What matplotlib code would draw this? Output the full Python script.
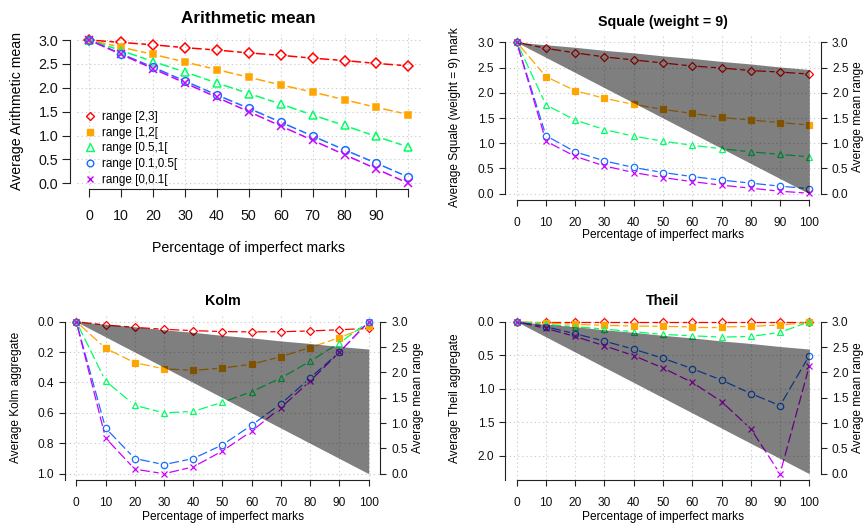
import matplotlib
matplotlib.use('Agg')
import matplotlib.pyplot as plt
from matplotlib.lines import Line2D
import numpy as np

plt.rcParams['font.family'] = ['Liberation Sans', 'DejaVu Sans']
plt.rcParams['lines.scale_dashes'] = False

# ---------------- data ----------------
pct = [0, 10, 20, 30, 40, 50, 60, 70, 80, 90, 100]
series_labels = ['range [2,3]', 'range [1,2[', 'range [0.5,1[', 'range [0.1,0.5[', 'range [0,0.1[']
colors = ['#FF0000', '#FFA500', '#00FF66', '#1A6EFF', '#CC00FF']
markers = ['D', 's', '^', 'o', 'x']

am_23 = [3.0, 2.95, 2.90, 2.84, 2.79, 2.73, 2.68, 2.62, 2.57, 2.51, 2.46]
am_12 = [3.0, 2.85, 2.70, 2.54, 2.38, 2.22, 2.06, 1.91, 1.75, 1.59, 1.44]
am_051 = [3.0, 2.78, 2.55, 2.33, 2.10, 1.88, 1.66, 1.43, 1.21, 0.98, 0.76]
am_0105 = [3.0, 2.71, 2.43, 2.14, 1.85, 1.57, 1.28, 0.99, 0.70, 0.42, 0.13]
am_001 = [3.0, 2.70, 2.40, 2.10, 1.80, 1.50, 1.20, 0.90, 0.60, 0.30, 0.0]

sq_23 = [3.0, 2.88, 2.79, 2.71, 2.65, 2.59, 2.53, 2.49, 2.44, 2.41, 2.37]
sq_12 = [3.0, 2.32, 2.04, 1.89, 1.77, 1.67, 1.59, 1.51, 1.46, 1.41, 1.36]
sq_051 = [3.0, 1.76, 1.46, 1.27, 1.14, 1.04, 0.96, 0.89, 0.83, 0.78, 0.73]
sq_0105 = [3.0, 1.15, 0.83, 0.65, 0.52, 0.42, 0.34, 0.27, 0.21, 0.15, 0.10]
sq_001 = [3.0, 1.04, 0.74, 0.55, 0.42, 0.32, 0.24, 0.17, 0.11, 0.05, 0.01]

ko_23 = [0.0, 0.022, 0.037, 0.05, 0.059, 0.065, 0.067, 0.066, 0.061, 0.053, 0.044]
ko_12 = [0.0, 0.175, 0.27, 0.31, 0.32, 0.305, 0.28, 0.23, 0.17, 0.105, 0.03]
ko_051 = [0.0, 0.39, 0.55, 0.60, 0.59, 0.53, 0.46, 0.37, 0.26, 0.14, 0.0]
ko_0105 = [0.0, 0.70, 0.90, 0.94, 0.90, 0.81, 0.68, 0.54, 0.37, 0.20, 0.0]
ko_001 = [0.0, 0.765, 0.97, 1.0, 0.955, 0.85, 0.72, 0.565, 0.39, 0.20, 0.0]

th_23 = [0.0, 0.0, 0.0, 0.0, 0.0, 0.0, 0.0, 0.0, 0.0, 0.0, 0.0]
th_12 = [0.0, 0.02, 0.04, 0.055, 0.065, 0.07, 0.078, 0.078, 0.07, 0.05, 0.01]
th_051 = [0.0, 0.04, 0.075, 0.11, 0.15, 0.19, 0.21, 0.23, 0.22, 0.16, 0.0]
th_0105 = [0.0, 0.075, 0.18, 0.29, 0.41, 0.545, 0.70, 0.87, 1.07, 1.25, 0.505]
th_001 = [0.0, 0.10, 0.22, 0.36, 0.505, 0.69, 0.905, 1.19, 1.595, 2.265, 0.66]

# mean range band (right axis): between extreme arithmetic means
band_upper = am_23
band_lower = am_001

x_ticks = [0, 10, 20, 30, 40, 50, 60, 70, 80, 90, 100]

W, H, DPI = 864, 529, 100
fig = plt.figure(figsize=(W / DPI, H / DPI), dpi=DPI)

PT = 72.0 / DPI  # points per pixel
SPINE_C = '#222222'
GRID_C = '#D0D0D0'


def px_axes(x0, y0, x1, y1):
    return fig.add_axes([x0 / W, 1 - y1 / H, (x1 - x0) / W, (y1 - y0) / H])


def ftext(x, y, s, **kw):
    fig.text(x / W, 1 - y / H, s, **kw)


def draw_series(ax, x, y, color, marker, ms, gap_px, lw, dashes):
    # R type="b": points plus line segments with gaps around the points
    pts = ax.transData.transform(np.column_stack([x, y]))
    inv = ax.transData.inverted()
    for i in range(len(x) - 1):
        p0, p1 = pts[i], pts[i + 1]
        d = p1 - p0
        L = np.hypot(d[0], d[1])
        if L <= 2 * gap_px:
            continue
        u = d / L
        seg = inv.transform(np.array([p0 + u * gap_px, p1 - u * gap_px]))
        ax.plot(seg[:, 0], seg[:, 1], color=color, lw=lw, dashes=dashes,
                solid_capstyle='butt', dash_capstyle='butt')
    filled = marker == 's'
    ax.plot(x, y, linestyle='None', marker=marker, ms=ms,
            mec=color, mfc=color if filled else 'none', mew=lw)


def style(ax, fs, ticklen, xlabels, xpad, ypad):
    for s in ['top', 'right']:
        ax.spines[s].set_visible(False)
    for s in ['left', 'bottom']:
        ax.spines[s].set_color(SPINE_C)
        ax.spines[s].set_linewidth(0.8)
    ax.set_xticks(x_ticks)
    ax.set_xticklabels(xlabels)
    ax.tick_params(axis='both', labelsize=fs, length=ticklen, width=0.8,
                   color=SPINE_C, labelcolor='#111111')
    ax.tick_params(axis='x', pad=xpad)
    ax.tick_params(axis='y', pad=ypad)
    ax.grid(True, color=GRID_C, linestyle=(0, (1, 2)), linewidth=0.8)
    ax.set_axisbelow(True)


def right_axis(ax, fs, ticklen, pad):
    r = ax.twinx()
    r.set_ylim(-0.12, 3.12)
    for s in ['top', 'left', 'bottom']:
        r.spines[s].set_visible(False)
    r.spines['right'].set_color(SPINE_C)
    r.spines['right'].set_linewidth(0.8)
    r.spines['right'].set_bounds(0, 3)
    r.set_yticks([0, 0.5, 1.0, 1.5, 2.0, 2.5, 3.0])
    r.set_yticklabels(['0.0', '0.5', '1.0', '1.5', '2.0', '2.5', '3.0'])
    r.tick_params(axis='y', labelsize=fs, length=ticklen, width=0.8,
                  color=SPINE_C, labelcolor='#111111', pad=pad)
    return r


def band(r):
    r.fill_between(pct, band_lower, band_upper, color='black', alpha=0.5,
                   linewidth=0, zorder=5)


DASH = (7.0, 2.5)

# ---------------- Panel 1: Arithmetic mean ----------------
ax1 = px_axes(76.5, 34.3, 421.1, 189.0)
ax1.set_xlim(-4, 104)
ax1.set_ylim(-0.12, 3.12)
style(ax1, 10.3, 5.5, [str(v) for v in x_ticks[:-1]] + [''], 9.0, 3.0)
ax1.spines['left'].set_position(('outward', 6.5 * PT))
ax1.spines['left'].set_bounds(0, 3)
ax1.spines['bottom'].set_bounds(0, 100)
ax1.set_yticks([0, 0.5, 1.0, 1.5, 2.0, 2.5, 3.0])
ax1.set_yticklabels(['0.0', '0.5', '1.0', '1.5', '2.0', '2.5', '3.0'])
sizes1 = [4.8, 5.0, 6.2, 5.6, 5.2]
for ys, c, m, s in zip([am_23, am_12, am_051, am_0105, am_001], colors, markers, sizes1):
    draw_series(ax1, pct, ys, c, m, s, 7.0, 1.1, DASH)
handles = [Line2D([], [], linestyle='None', marker=m, ms=s * 0.85, mec=c,
                  mfc=c if m == 's' else 'none', mew=1.0)
           for m, c, s in zip(markers, colors, sizes1)]
leg = ax1.legend(handles, series_labels, loc='upper left',
                 bbox_to_anchor=(85.5 / W, 1 - 111.0 / H), bbox_transform=fig.transFigure,
                 frameon=False, fontsize=8.4, handlelength=0.8, handletextpad=0.6,
                 labelspacing=0.32, borderpad=0, borderaxespad=0)

ftext(248.8, 18.3, 'Arithmetic mean', fontsize=12.3, fontweight='bold', ha='center', va='center')
ftext(16.7, 111, 'Average Arithmetic mean', fontsize=10.2, rotation=90, ha='center', va='center')
ftext(248.8, 248, 'Percentage of imperfect marks', fontsize=10.2, ha='center', va='center')

# ---------------- Panel 2: Squale ----------------
ax2 = px_axes(505, 36.2, 821, 199.8)
ax2.set_xlim(-4, 104)
ax2.set_ylim(-0.12, 3.12)
style(ax2, 8.6, 4.3, [str(v) for v in x_ticks], 8.0, 3.4)
ax2.spines['left'].set_bounds(0, 3)
ax2.spines['bottom'].set_bounds(0, 100)
ax2.set_yticks([0, 0.5, 1.0, 1.5, 2.0, 2.5, 3.0])
ax2.set_yticklabels(['0.0', '0.5', '1.0', '1.5', '2.0', '2.5', '3.0'])
sizes = [3.9, 4.2, 5.0, 4.6, 4.2]
for ys, c, m, s in zip([sq_23, sq_12, sq_051, sq_0105, sq_001], colors, markers, sizes):
    draw_series(ax2, pct, ys, c, m, s, 5.5, 0.9, DASH)
r2 = right_axis(ax2, 8.6, 4.3, 3.6)
band(r2)
ftext(663, 21.7, 'Squale (weight = 9)', fontsize=10.3, fontweight='bold', ha='center', va='center')
ftext(455.3, 117, 'Average Squale (weight = 9) mark', fontsize=8.6, rotation=90, ha='center', va='center')
ftext(663, 235, 'Percentage of imperfect marks', fontsize=8.6, ha='center', va='center')
ftext(858, 117, 'Average mean range', fontsize=8.6, rotation=90, ha='center', va='center')

# ---------------- Panel 3: Kolm ----------------
ax3 = px_axes(64.6, 315.6, 380.4, 479.8)
ax3.set_xlim(-4, 104)
ax3.set_ylim(1.04, -0.04)
style(ax3, 8.6, 4.3, [str(v) for v in x_ticks], 8.3, 3.4)
ax3.spines['left'].set_bounds(0, 1.04)
ax3.spines['bottom'].set_bounds(0, 100)
ax3.set_yticks([0, 0.2, 0.4, 0.6, 0.8, 1.0])
ax3.set_yticklabels(['0.0', '0.2', '0.4', '0.6', '0.8', '1.0'])
for ys, c, m, s in zip([ko_23, ko_12, ko_051, ko_0105, ko_001], colors, markers, sizes):
    draw_series(ax3, pct, ys, c, m, s, 5.5, 0.9, DASH)
r3 = right_axis(ax3, 8.6, 4.3, 3.6)
band(r3)
ftext(222.5, 301, 'Kolm', fontsize=10.3, fontweight='bold', ha='center', va='center')
ftext(16, 397.7, 'Average Kolm aggregate', fontsize=8.6, rotation=90, ha='center', va='center')
ftext(222.5, 516.7, 'Percentage of imperfect marks', fontsize=8.6, ha='center', va='center')
ftext(418, 397.7, 'Average mean range', fontsize=8.6, rotation=90, ha='center', va='center')

# ---------------- Panel 4: Theil ----------------
ax4 = px_axes(505, 315.6, 821, 479.8)
tmax = max(th_001)
ax4.set_xlim(-4, 104)
ax4.set_ylim(tmax * 1.04, -0.04 * tmax)
style(ax4, 8.6, 4.3, [str(v) for v in x_ticks], 8.3, 3.4)
ax4.spines['left'].set_bounds(0, tmax * 1.04)
ax4.spines['bottom'].set_bounds(0, 100)
ax4.set_yticks([0, 0.5, 1.0, 1.5, 2.0])
ax4.set_yticklabels(['0.0', '0.5', '1.0', '1.5', '2.0'])
for ys, c, m, s in zip([th_23, th_12, th_051, th_0105, th_001], colors, markers, sizes):
    draw_series(ax4, pct, ys, c, m, s, 5.5, 0.9, DASH)
r4 = right_axis(ax4, 8.6, 4.3, 3.6)
band(r4)
ftext(663, 301, 'Theil', fontsize=10.3, fontweight='bold', ha='center', va='center')
ftext(455.3, 397.7, 'Average Theil aggregate', fontsize=8.6, rotation=90, ha='center', va='center')
ftext(663, 516.7, 'Percentage of imperfect marks', fontsize=8.6, ha='center', va='center')
ftext(857.5, 397.7, 'Average mean range', fontsize=8.6, rotation=90, ha='center', va='center')

fig.savefig('out.png', dpi=DPI)
